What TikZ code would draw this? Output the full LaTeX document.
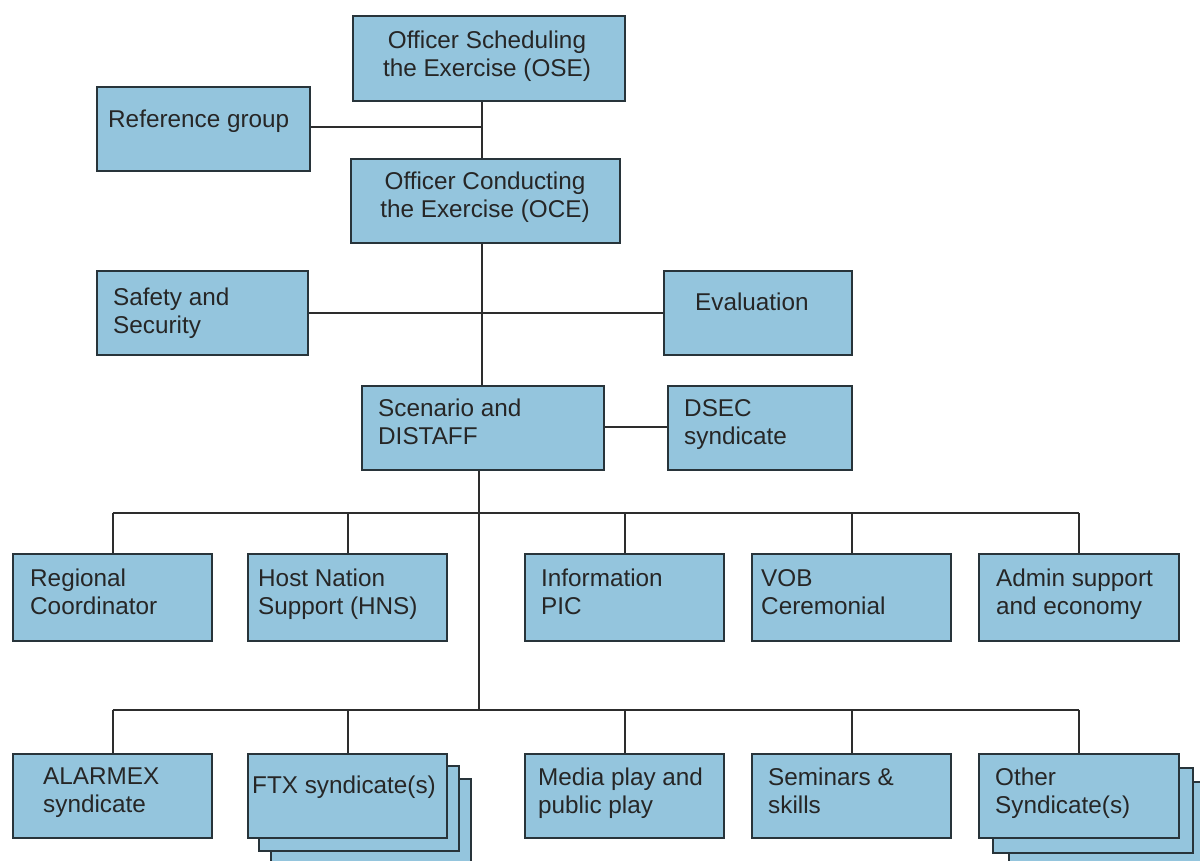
\documentclass[tikz,border=0pt]{standalone}
\usepackage{fontspec}
\setmainfont{Liberation Sans}
\definecolor{boxfill}{RGB}{148,197,221}
\definecolor{boxline}{RGB}{40,52,58}
\definecolor{conn}{RGB}{45,45,45}
\begin{document}
\begin{tikzpicture}[x=1pt,y=-1pt,
  box/.style={draw=boxline,line width=2pt,fill=boxfill,inner sep=0pt,anchor=north west},
  txt/.style={anchor=north west,inner sep=0pt,align=left,text=black!85,font=\fontsize{24.3}{28}\selectfont},
  ctxt/.style={anchor=north,inner sep=0pt,align=center,text=black!85,font=\fontsize{24.3}{28}\selectfont},
  link/.style={draw=conn,line width=2pt}]
\useasboundingbox (0,0) rectangle (1200,860);
\newcommand{\mybox}[5]{\node[box,minimum width=#4,minimum height=#5] (#1) at (#2,#3) {};}
\mybox{ose}{352}{15}{272}{85}
\mybox{ref}{96}{86}{213}{84}
\mybox{oce}{350}{158}{269}{84}
\mybox{saf}{96}{270}{211}{84}
\mybox{eva}{663}{270}{188}{84}
\mybox{sce}{361}{385}{242}{84}
\mybox{dsec}{667}{385}{184}{84}
\mybox{reg}{12}{553}{199}{87}
\mybox{hns}{247}{553}{199}{87}
\mybox{inf}{524}{553}{199}{87}
\mybox{vob}{751}{553}{199}{87}
\mybox{adm}{978}{553}{200}{87}
\mybox{ala}{12}{753}{199}{84}
\mybox{ftxc}{270}{778}{200}{84}
\mybox{ftxb}{258}{765}{200}{85}
\mybox{ftx}{247}{753}{199}{84}
\mybox{med}{524}{753}{199}{84}
\mybox{sem}{751}{753}{199}{84}
\mybox{othc}{1008}{781}{200}{84}
\mybox{othb}{992}{767}{200}{85}
\mybox{oth}{978}{753}{200}{84}
\node[ctxt] (ose-t) at (487,31) {Officer Scheduling\\the Exercise (OSE)};
\node[txt] (ref-t) at (108,110) {Reference group};
\node[ctxt] (oce-t) at (485,172) {Officer Conducting\\the Exercise (OCE)};
\node[txt] (saf-t) at (113,288) {Safety and\\Security};
\node[txt] (eva-t) at (695,293) {Evaluation};
\node[txt] (sce-t) at (378,399) {Scenario and\\DISTAFF};
\node[txt] (dsec-t) at (684,399) {DSEC\\syndicate};
\node[txt] (reg-t) at (30,569) {Regional\\Coordinator};
\node[txt] (hns-t) at (258,569) {Host Nation\\Support (HNS)};
\node[txt] (inf-t) at (541,569) {Information\\PIC};
\node[txt] (vob-t) at (761,569) {VOB\\Ceremonial};
\node[txt] (adm-t) at (996,569) {Admin support\\and economy};
\node[txt] (ala-t) at (43,768) {ALARMEX\\syndicate};
\node[txt] (ftx-t) at (252,776) {FTX syndicate(s)};
\node[txt] (med-t) at (538,768) {Media play and\\public play};
\node[txt] (sem-t) at (768,768) {Seminars \&\\skills};
\node[txt] (oth-t) at (995,768) {Other\\Syndicate(s)};
\coordinate (j1) at (482,127);
\coordinate (j2) at (482,313);
\coordinate (b1) at (479,513);
\coordinate (b2) at (479,710);
\coordinate (e1) at (1079,513);
\coordinate (e2) at (1079,710);
\draw[link] (ose.south -| j1) -- (oce.north -| j1);
\draw[link] (ref.east |- j1) -- (j1);
\draw[link] (oce.south -| j2) -- (sce.north -| j2);
\draw[link] (saf.east |- j2) -- (eva.west |- j2);
\draw[link] (sce.east |- 0,427) -- (dsec.west |- 0,427);
\draw[link] (sce.south -| b1) -- (b2);
\draw[link] (reg.north |- b1) -- (e1);
\draw[link] (reg.north |- b2) -- (e2);
\foreach \n in {reg,hns,inf,vob} {\draw[link] (\n.north) -- (\n.north |- b1);}
\draw[link] (adm.north -| e1) -- (e1);
\foreach \n in {ala,ftx,med,sem} {\draw[link] (\n.north) -- (\n.north |- b2);}
\draw[link] (oth.north -| e2) -- (e2);
\end{tikzpicture}
\end{document}
